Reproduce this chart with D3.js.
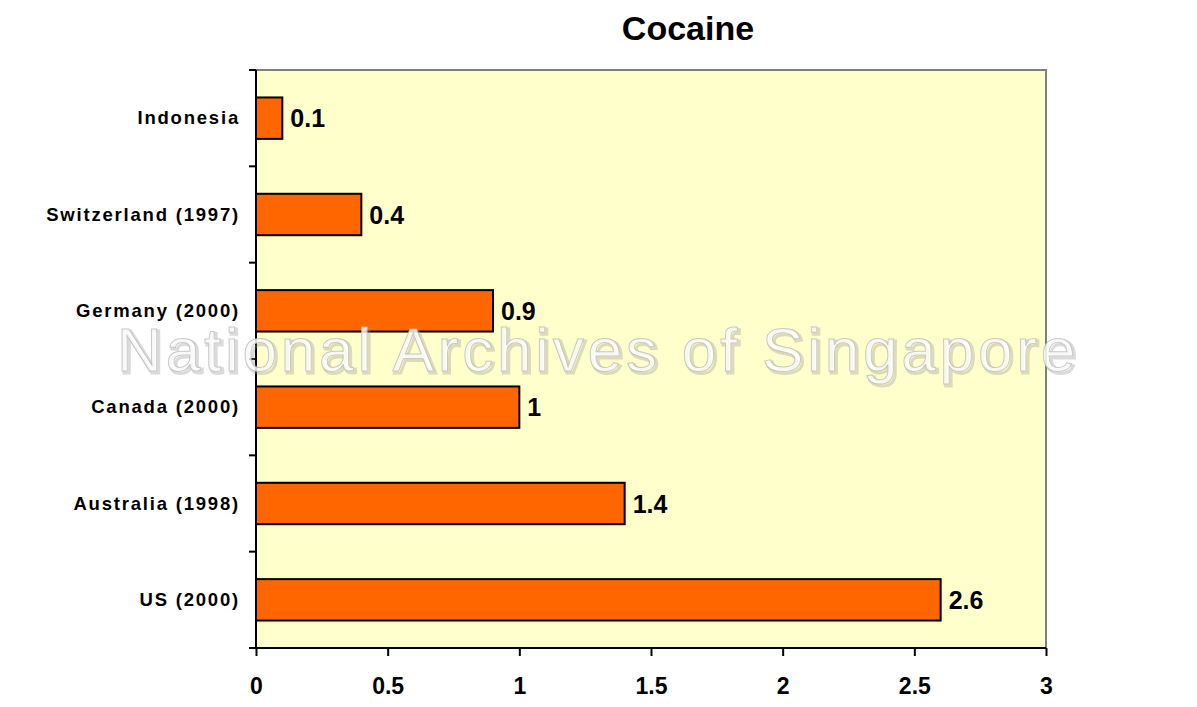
<!DOCTYPE html>
<html><head><meta charset="utf-8">
<script src="https://cdn.jsdelivr.net/npm/d3@7"></script>
<style>body{margin:0;background:#fff}svg{display:block}text{font-family:"Liberation Sans",Arial,sans-serif}</style>
</head><body>
<svg id="c" width="1197" height="707"></svg>
<script>
const categories = ["Indonesia","Switzerland (1997)","Germany (2000)","Canada (2000)","Australia (1998)","US (2000)"];
const values = [0.1,0.4,0.9,1,1.4,2.6];
const valueLabels = ["0.1","0.4","0.9","1","1.4","2.6"];
const xTicks = [0,0.5,1,1.5,2,2.5,3];
const xTickLabels = ["0","0.5","1","1.5","2","2.5","3"];

const svg = d3.select("#c");
const m = {l:256, r:1046, t:70, b:648};
const x = d3.scaleLinear().domain([0,3]).range([m.l,m.r]);
const y = d3.scaleBand().domain(categories).range([m.t,m.b]).paddingInner(0.57).paddingOuter(0.285);

svg.append("rect").attr("x",m.l).attr("y",m.t).attr("width",m.r-m.l).attr("height",m.b-m.t)
  .attr("fill","#FFFFCC").attr("stroke","#808080").attr("stroke-width",2);

svg.append("text").attr("x",688).attr("y",40).attr("text-anchor","middle")
  .attr("font-size",34).attr("font-weight","bold").text("Cocaine");

svg.selectAll(".bar").data(categories).join("rect")
  .attr("x",x(0)).attr("y",d=>y(d)).attr("width",(d,i)=>x(values[i])-x(0)).attr("height",y.bandwidth())
  .attr("fill","#FF6600").attr("stroke","#000").attr("stroke-width",2);

svg.selectAll(".vl").data(categories).join("text")
  .attr("x",(d,i)=>x(values[i])+8).attr("y",d=>y(d)+y.bandwidth()/2+9)
  .attr("font-size",25).attr("font-weight","bold").text((d,i)=>valueLabels[i]);

// y axis
const yb = d3.scaleLinear().domain([0,categories.length]).range([m.t,m.b]);
svg.append("line").attr("x1",m.l).attr("x2",m.l).attr("y1",m.t).attr("y2",m.b).attr("stroke","#000").attr("stroke-width",2);
svg.selectAll(".yt").data(d3.range(categories.length+1)).join("line")
  .attr("x1",m.l-7).attr("x2",m.l).attr("y1",d=>yb(d)).attr("y2",d=>yb(d)).attr("stroke","#000").attr("stroke-width",2);
svg.selectAll(".yl").data(categories).join("text")
  .attr("x",240).attr("y",d=>y(d)+y.bandwidth()/2+6).attr("text-anchor","end")
  .attr("font-size",18.5).attr("font-weight","bold").attr("letter-spacing",1.8).text(d=>d);

// x axis
const xa = d3.axisBottom(x).tickValues(xTicks).tickSize(8).tickFormat((d,i)=>xTickLabels[i]);
const g = svg.append("g").attr("transform",`translate(0,${m.b})`).call(xa);
g.select(".domain").attr("stroke","#000").attr("stroke-width",2).attr("d",`M${m.l},0H${m.r}`);
g.selectAll(".tick line").attr("stroke","#000").attr("stroke-width",2);
g.selectAll(".tick text").attr("fill","#000").attr("font-size",23).attr("font-weight","bold")
  .attr("font-family","'Liberation Sans',Arial,sans-serif").attr("y",46).attr("dy",0);

// watermark
const wm = "National Archives of Singapore";
svg.append("text").attr("x",600).attr("y",373).attr("text-anchor","middle")
  .attr("font-size",62).attr("letter-spacing",3.8)
  .attr("fill","none").attr("stroke","#999").attr("stroke-width",3).attr("stroke-opacity",0.35)
  .text(wm);
svg.append("text").attr("x",598).attr("y",371).attr("text-anchor","middle")
  .attr("font-size",62).attr("letter-spacing",3.8)
  .attr("fill","#ffffff").attr("fill-opacity",0.8).attr("stroke","#bbbbbb").attr("stroke-width",1).attr("stroke-opacity",0.8)
  .text(wm);
</script>
</body></html>
